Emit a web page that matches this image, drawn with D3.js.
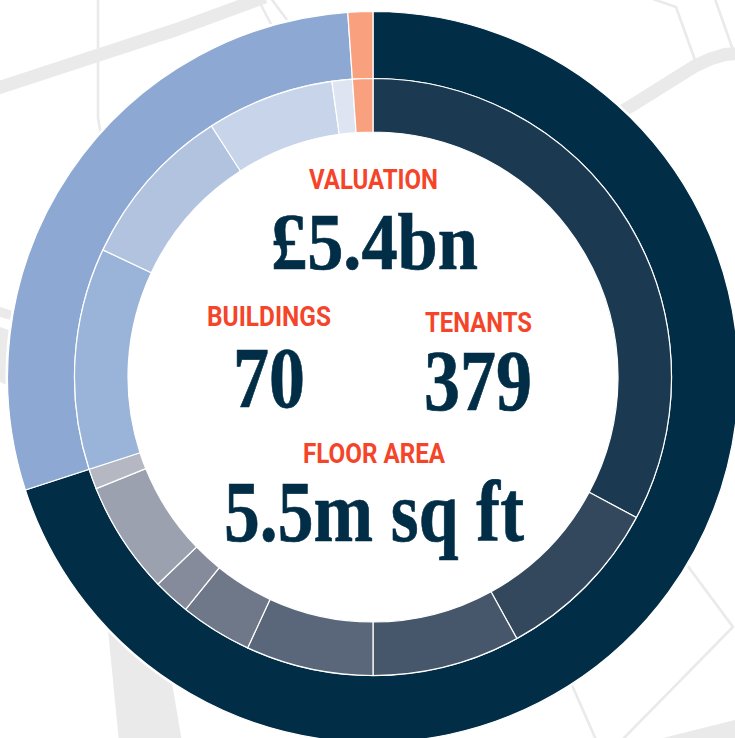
<!DOCTYPE html>
<html>
<head>
<meta charset="utf-8">
<script src="https://cdn.jsdelivr.net/npm/d3@7"></script>
<style>
html,body{margin:0;padding:0;background:#fff;overflow:hidden}
svg{display:block}
</style>
</head>
<body>
<div id="chart"></div>
<script>
// Outer ring shares
const outerCategories = ["Group A", "Group B", "Group C"];
const outerValues = [70.0, 28.9, 1.1];
const outerColors = ["#012E46", "#8DA9D3", "#F9A17E"];

// Inner ring shares
const innerCategories = ["A1","A2","A3","A4","A5","A6","A7","A8","B1","B2","B3","B4","C1"];
const innerValues = [32.8, 9.2, 8.0, 6.9, 3.9, 2.0, 6.1, 1.1, 12.0, 8.9, 6.9, 1.1, 1.1];
const innerColors = ["#1B3A51","#33485D","#46566B","#5A677A","#6F7888","#858B9A","#9BA1AE","#B5B8C2",
                     "#9AB4D9","#B2C3E0","#C8D4E9","#DEE4F1","#F9A17E"];

// Centre text
const labelTexts = ["VALUATION","BUILDINGS","TENANTS","FLOOR AREA"];
const valueTexts = ["£5.4bn","70","379","5.5m sq ft"];

// Faint street map behind the rings
const thickRoads = [
  [[-5,89],[175,30],[265,-3]],
  [[610,119],[635,103.5],[695,66],[710,59],[725,54.5],[740,53.5]]
];
const thinRoads = [
  [[98,-2],[98,118],[101,135]],
  [[260,3],[273,28]],
  [[270,-3],[290,24]],
  [[653,-1],[676,7],[695,60]],
  [[715,-1],[733,50]],
  [[687,565],[733,627],[620,742]],
  [[571,683],[597,742]]
];
const roadFills = [
  [[0,307],[13,311],[11,320],[0,317]],
  [[0,327],[9,330],[9,386],[0,382]],
  [[108,630],[172,683],[182,742],[119,742]],
  [[655,740],[735,720],[735,742],[655,742]]
];

const W = 735, H = 738, CX = 373, CY = 377;
const svg = d3.select("#chart").append("svg").attr("width", W).attr("height", H);

const roadLine = d3.line().curve(d3.curveLinear);
const bg = svg.append("g");
bg.selectAll(".fill").data(roadFills).join("path")
  .attr("d", d => roadLine(d) + "Z").attr("fill", "#EAEAEA");
bg.selectAll(".thick").data(thickRoads).join("path")
  .attr("d", roadLine).attr("fill", "none").attr("stroke", "#EAEAEA").attr("stroke-width", 13);
bg.selectAll(".thin").data(thinRoads).join("path")
  .attr("d", roadLine).attr("fill", "none").attr("stroke", "#EAEAEA").attr("stroke-width", 2.6);

const pie = d3.pie().sort(null).value(d => d);
const rings = svg.append("g").attr("transform", `translate(${CX},${CY})`);

// White halo separating the rings from the map
rings.append("circle").attr("r", 367.5).attr("fill", "#fff");

const outerArc = d3.arc().innerRadius(298.5).outerRadius(365.5);
const innerArc = d3.arc().innerRadius(245).outerRadius(298.5);

rings.selectAll(".outer").data(pie(outerValues)).join("path")
  .attr("class", "outer").attr("d", outerArc)
  .attr("fill", (d, i) => outerColors[i])
  .attr("stroke", "#fff").attr("stroke-width", 1.2);

rings.selectAll(".inner").data(pie(innerValues)).join("path")
  .attr("class", "inner").attr("d", innerArc)
  .attr("fill", (d, i) => innerColors[i])
  .attr("stroke", "#fff").attr("stroke-width", 1.2);

const labelPlaces = [
  {x0:309, x1:438, y:189},
  {x0:207, x1:331, y:326},
  {x0:425, x1:532, y:332},
  {x0:303, x1:445, y:463}
];
const valuePlaces = [
  {x0:271, x1:478, y:269, size:80},
  {x0:233, x1:305, y:407, size:86},
  {x0:424, x1:532, y:410, size:86},
  {x0:224, x1:524, y:541, size:86}
];

const txt = svg.append("g");
txt.selectAll(".lab").data(labelTexts).join("text")
  .attr("class", "lab")
  .attr("x", (d, i) => labelPlaces[i].x0)
  .attr("y", (d, i) => labelPlaces[i].y)
  .attr("textLength", (d, i) => labelPlaces[i].x1 - labelPlaces[i].x0)
  .attr("lengthAdjust", "spacingAndGlyphs")
  .attr("font-family", "'Roboto','Liberation Sans',sans-serif")
  .attr("font-weight", 700)
  .attr("font-size", 27)
  .attr("fill", "#F4452A")
  .text(d => d);

txt.selectAll(".val").data(valueTexts).join("text")
  .attr("class", "val")
  .attr("x", (d, i) => valuePlaces[i].x0)
  .attr("y", (d, i) => valuePlaces[i].y)
  .attr("textLength", (d, i) => valuePlaces[i].x1 - valuePlaces[i].x0)
  .attr("lengthAdjust", "spacingAndGlyphs")
  .attr("font-family", "'Liberation Serif',serif")
  .attr("font-weight", 700)
  .attr("font-size", (d, i) => valuePlaces[i].size)
  .attr("fill", "#012E46")
  .attr("stroke", "#012E46")
  .attr("stroke-width", 0.7)
  .text(d => d);
</script>
</body>
</html>
